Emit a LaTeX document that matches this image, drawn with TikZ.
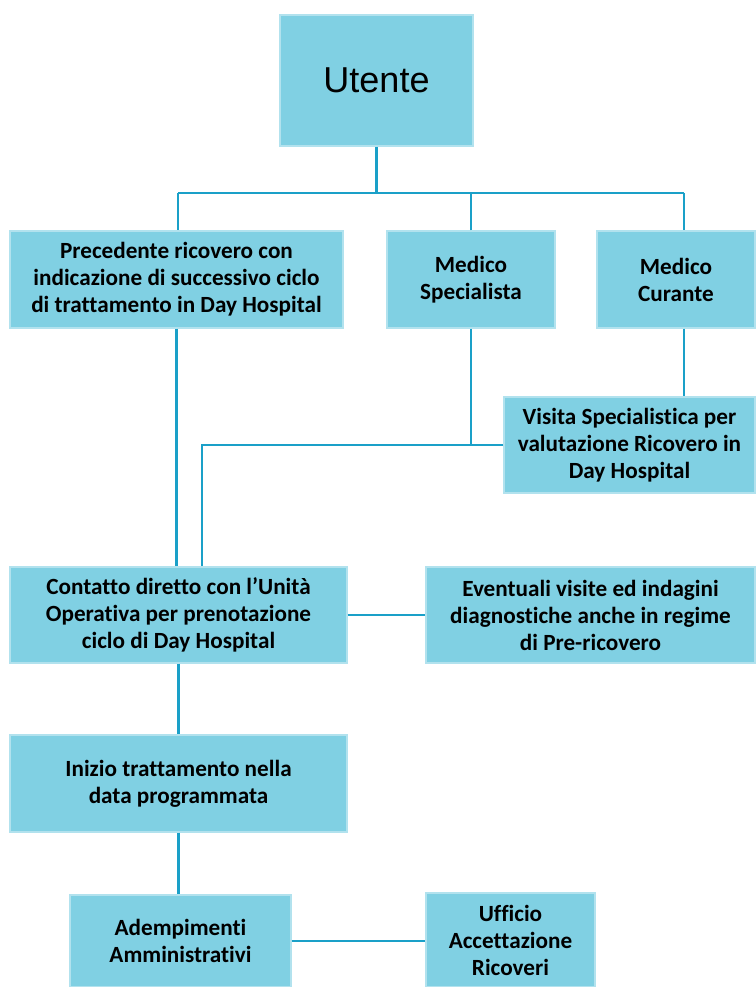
\documentclass[tikz,border=0pt]{standalone}
\usepackage{fontspec}
\setmainfont[Ligatures=NoCommon]{Carlito}
\newfontfamily\titlefont{Liberation Sans}
\usepackage{tikz}
\definecolor{boxfill}{RGB}{128,208,227}
\definecolor{boxedge}{RGB}{178,226,238}
\definecolor{wire}{RGB}{26,160,200}
\tikzset{
  box/.style={draw=boxedge,line width=0.8pt,fill=boxfill,align=center,inner sep=2pt,
    font=\bfseries\fontsize{13.2}{15.4}\selectfont},
  wire/.style={draw=wire,line width=1.2pt}
}

\begin{document}
\begin{tikzpicture}[x=0.02cm,y=-0.02cm]
		%\draw [help lines] (0,0) grid (755,987);
		\useasboundingbox (0,0) rectangle (755,987);
		\node [box,minimum width=3.86cm,minimum height=2.62cm,font=\titlefont\fontsize{20.5}{24}\selectfont] (utente) at (376.5,80.5) {Utente};
		\node [box,minimum width=6.66cm,minimum height=1.94cm] (prec) at (176.5,279.5) {Precedente ricovero con\\indicazione di successivo ciclo\\di trattamento in Day Hospital};
		\node [box,minimum width=3.36cm,minimum height=1.94cm] (spec) at (471,279.5) {Medico\\Specialista};
		\node [box,minimum width=3.16cm,minimum height=1.94cm] (cur) at (676,279.5) {Medico\\Curante};
		\node [box,minimum width=5.02cm,minimum height=1.92cm] (visita) at (629.5,445) {Visita Specialistica per\\valutazione Ricovero in\\Day Hospital};
		\node [box,minimum width=6.74cm,minimum height=1.92cm] (contatto) at (178.5,615) {Contatto diretto con l'Unità\\Operativa per prenotazione\\ciclo di Day Hospital};
		\node [box,minimum width=6.58cm,minimum height=1.92cm] (event) at (590.5,615) {Eventuali visite ed indagini\\diagnostiche anche in regime\\di Pre-ricovero};
		\node [box,minimum width=6.74cm,minimum height=1.94cm] (inizio) at (178.5,783.5) {Inizio trattamento nella\\data programmata};
		\node [box,minimum width=4.42cm,minimum height=1.84cm] (ademp) at (180.5,941) {Adempimenti\\Amministrativi};
		\node [box,minimum width=3.38cm,minimum height=1.88cm] (uff) at (510.5,940) {Ufficio\\Accettazione\\Ricoveri};
		%the bus under Utente
		\coordinate (busL) at (178,193);
		\coordinate (busR) at (684,193);
		\draw [wire] (busL) -- (busR);
		\draw [wire] (utente) -- (utente |- busL);
		\draw [wire] (busL) -- (busL |- prec.north);
		\draw [wire] (busR) -- (busR |- cur.north);
		\draw [wire] (spec.north) -- (spec.north |- busL);
		%the two ways to Contatto
		\coordinate (jn) at (202,445);
		\draw [wire] (prec.south) -- (prec.south |- contatto.north);
		\draw [wire] (spec.south) -- (spec.south |- visita.west);
		\draw [wire] (busR |- cur.south) -- (busR |- visita.north);
		\draw [wire] (visita.west) -- (jn) -- (jn |- contatto.north);
		\draw [wire] (contatto.east) -- (event.west);
		\draw [wire] (contatto.south) -- (contatto.south |- inizio.north);
		\draw [wire] (inizio.south) -- (inizio.south |- ademp.north);
		\draw [wire] (ademp.east) -- (ademp.east -| uff.west);
		\end{tikzpicture}
\end{document}
